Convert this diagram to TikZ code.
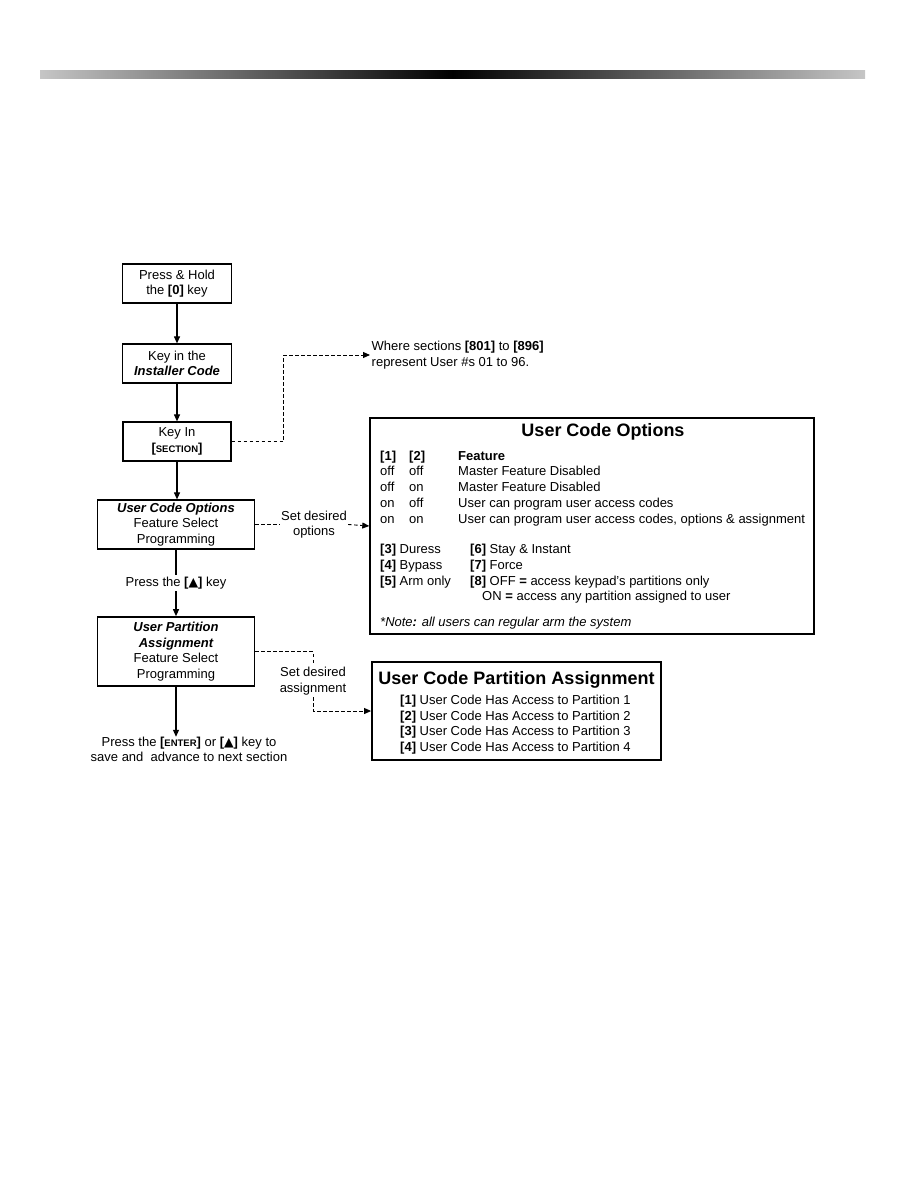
\documentclass[tikz,border=0pt]{standalone}
\usepackage{fontspec}
\setmainfont{Liberation Sans}
\newfontfamily\dv{DejaVu Sans}
\usetikzlibrary{arrows.meta}
\newcommand{\tri}{{\dv\fontsize{12.5}{12}\selectfont ▲}}
\newcommand{\smc}[1]{{\fontsize{9.5}{12}\selectfont #1}}
\begin{document}
\begin{tikzpicture}[x=1pt,y=-1pt,
  every node/.style={font=\fontsize{13}{15.5}\selectfont},
  flowbox/.style={draw, line width=1.2pt, align=center, inner sep=0pt},
  arr/.style={line width=1.1pt, -{Triangle[length=7pt,width=6pt]}},
  dsh/.style={line width=0.9pt, dash pattern=on 3.5pt off 2.5pt},
  dsharr/.style={dsh, -{Triangle[length=7pt,width=6pt]}},
  txt/.style={anchor=base west, inner sep=0pt},
  ttl/.style={font=\fontsize{18}{21}\selectfont\bfseries, inner sep=0pt}
]
\path[use as bounding box] (0,0) rectangle (918,1188);
% gradient bar
\shade[left color=gray!45, right color=gray!45, middle color=black] (40,71) rectangle (865,79);

% flow boxes
\node[flowbox, minimum width=109, minimum height=39] (b1) at (177,283.5) {Press \& Hold\\the {\bfseries[0]} key};
\node[flowbox, minimum width=109, minimum height=39] (b2) at (177,363.5) {Key in the\\{\bfseries\itshape Installer Code}};
\node[flowbox, minimum width=108, minimum height=39] (b3) at (177,441.5) {Key In\\{\bfseries[\smc{SECTION}]}};
\node[flowbox, minimum width=157, minimum height=49] (b4) at (176,524.5) {{\bfseries\itshape User Code Options}\\Feature Select\\Programming};
\node[flowbox, line width=1.7pt, minimum width=157, minimum height=69] (b5) at (176,651.5) {{\bfseries\itshape User Partition}\\{\bfseries\itshape Assignment}\\Feature Select\\Programming};
\node[align=center, inner sep=0pt] (fin) at (189,749.5) {Press the {\bfseries[\smc{ENTER}]} or {\bfseries[}\tri{\bfseries]} key to\\save and \ advance to next section};

\draw[arr] (b1.south) -- (b2.north);
\draw[arr] (b2.south) -- (b2.south |- b3.north);
\draw[arr] (b3.south) -- (b3.south |- b4.north);
\draw[arr] (b4.south) -- node[fill=white, inner sep=2pt] (pk) {Press the {\bfseries[}\tri{\bfseries]} key} (b5.north);
\draw[arr] (b5.south) -- (b5.south |- fin.north);

% where note
\node[anchor=west, align=left, inner sep=1.5pt] (wh) at (370,355) {Where sections {\bfseries[801]} to {\bfseries[896]}\\represent User \#s 01 to 96.};
\draw[dsharr] (b3.east) -- ++(52,0) |- (wh.west);

% options box
\node[draw, line width=1.4pt, minimum width=444, minimum height=216, inner sep=0pt] (opt) at (592,526) {};
\node[ttl] (ot) at (603,432) {User Code Options};
\node[txt] (h1) at (380,460) {\bfseries[1]};
\node[txt] (h2) at (409,460) {\bfseries[2]};
\node[txt] (h3) at (458,460) {\bfseries Feature};
\node[txt] (r1a) at (380,475) {off};
\node[txt] (r1b) at (409,475) {off};
\node[txt] (r1c) at (458,475) {Master Feature Disabled};
\node[txt] (r2a) at (380,491) {off};
\node[txt] (r2b) at (409,491) {on};
\node[txt] (r2c) at (458,491) {Master Feature Disabled};
\node[txt] (r3a) at (380,507) {on};
\node[txt] (r3b) at (409,507) {off};
\node[txt] (r3c) at (458,507) {User can program user access codes};
\node[txt] (r4a) at (380,523) {on};
\node[txt] (r4b) at (409,523) {on};
\node[txt] (r4c) at (458,523) {User can program user access codes, options \& assignment};
\node[txt] (o3) at (380,553) {{\bfseries[3]} Duress};
\node[txt] (o4) at (380,569) {{\bfseries[4]} Bypass};
\node[txt] (o5) at (380,585) {{\bfseries[5]} Arm only};
\node[txt] (o6) at (470,553) {{\bfseries[6]} Stay \& Instant};
\node[txt] (o7) at (470,569) {{\bfseries[7]} Force};
\node[txt] (o8) at (470,585) {{\bfseries[8]} OFF {\bfseries=} access keypad's partitions only};
\node[txt] (o8b) at (482,600) {ON {\bfseries=} access any partition assigned to user};
\node[txt] (note) at (380,626) {\itshape *Note{\bfseries:} all users can regular arm the system};

\node[align=center, inner sep=1pt] (sd1) at (314,524.5) {Set desired\\options};
\draw[dsh] (b4.east) -- (sd1.west);
\draw[dsharr] (sd1.east) -- (opt.west);

% partition box
\node[draw, line width=1.8pt, minimum width=289, minimum height=98, inner sep=0pt] (pa) at (516.5,711) {};
\node[ttl] (pt) at (516.5,680) {User Code Partition Assignment};
\node[txt] (p1) at (400,704) {{\bfseries[1]} User Code Has Access to Partition 1};
\node[txt] (p2) at (400,720) {{\bfseries[2]} User Code Has Access to Partition 2};
\node[txt] (p3) at (400,735) {{\bfseries[3]} User Code Has Access to Partition 3};
\node[txt] (p4) at (400,751) {{\bfseries[4]} User Code Has Access to Partition 4};

\node[align=center, inner sep=2pt] (sd2) at (313,681) {Set desired\\assignment};
\draw[dsh] (b5.east) -- (b5.east -| sd2) -- (sd2.north);
\draw[dsharr] (sd2.south) |- (pa.west);
\end{tikzpicture}
\end{document}
